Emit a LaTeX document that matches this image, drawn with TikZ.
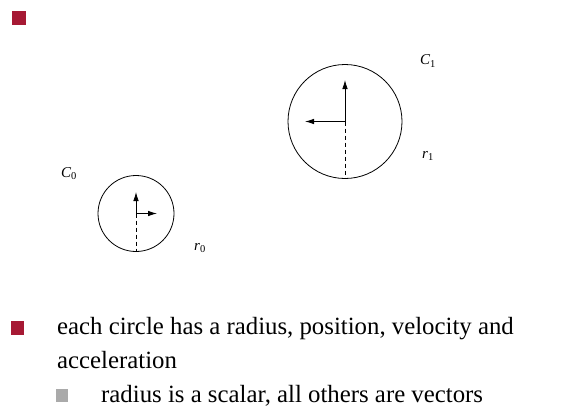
\documentclass[tikz,border=0pt]{standalone}
\usepackage{fontspec}
\setmainfont{Liberation Serif}
\usetikzlibrary{arrows.meta}
\definecolor{bulletred}{RGB}{166,25,52}
\definecolor{bulletgray}{RGB}{170,170,170}
\begin{document}
\begin{tikzpicture}[x=1pt,y=-1pt,
  ring/.style={draw,circle,line width=0.8pt,inner sep=0pt},
  vec/.style={line width=0.8pt,-{Latex[length=9pt,width=5.5pt]}},
  rad/.style={line width=0.8pt,dashed,dash pattern=on 4pt off 3pt},
  lab/.style={font=\fontsize{15}{17}\selectfont,inner sep=0pt},
  body/.style={font=\fontsize{24.8}{34}\selectfont,anchor=base west,inner sep=0pt},
  redbullet/.style={fill=bulletred,draw=none,minimum size=13.5pt,inner sep=0pt},
  graybullet/.style={fill=bulletgray,draw=none,minimum size=12.5pt,inner sep=0pt}]
\useasboundingbox (0,0) rectangle (562,410);
\node[redbullet] (b0) at (19,18) {};
% big circle
\coordinate (c1) at (345,121.5);
\node[ring,minimum size=114pt] (C1) at (c1) {};
\coordinate (v1) at (345,80);
\coordinate (a1) at (305,121.5);
\draw[vec] (c1) -- (v1);
\draw[vec] (c1) -- (a1);
\draw[rad] (c1) -- (C1.south);
\node[lab] (lC1) at (428,61) {\textit{C}\textsubscript{1}};
\node[lab] (lr1) at (428,156) {\textit{r}\textsubscript{1}};
% small circle
\coordinate (c0) at (136,213.5);
\node[ring,minimum size=76pt] (C0) at (c0) {};
\coordinate (v0) at (136,192);
\coordinate (a0) at (157,213.5);
\draw[vec] (c0) -- (v0);
\draw[vec] (c0) -- (a0);
\draw[rad] (c0) -- (C0.south);
\node[lab] (lC0) at (69,174) {\textit{C}\textsubscript{0}};
\node[lab] (lr0) at (200,248) {\textit{r}\textsubscript{0}};
% text
\node[redbullet] (b1) at (17.5,328) {};
\node[body] (t1) at (57,334) {each circle has a radius, position, velocity and};
\node[body] (t2) at (57,368) {acceleration};
\node[graybullet] (b2) at (62,395.5) {};
\node[body] (t3) at (101,402) {radius is a scalar, all others are vectors};
\end{tikzpicture}
\end{document}
